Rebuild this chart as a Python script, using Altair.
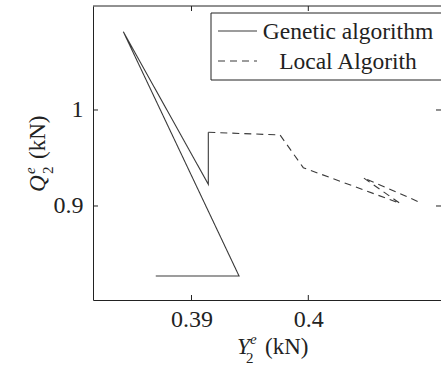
import altair as alt
import pandas as pd

# ---- data ----
series_names = ["Genetic algorithm", "Local Algorith"]
ga_x = [0.38694, 0.39407, 0.38416, 0.39144, 0.39144]
ga_y = [0.8271, 0.8271, 1.0816, 0.9226, 0.9768]
la_x = [0.39144, 0.39758, 0.39957, 0.40785, 0.40471, 0.40942]
la_y = [0.9768, 0.9740, 0.9399, 0.9028, 0.9295, 0.9045]
x_ticks = [0.39, 0.4]
y_ticks = [0.9, 1.0]

# ---- layout / style ----
W, H = 348, 294
X_DOM = [0.381567, 0.411361]
Y_DOM = [0.80208, 1.10833]
FONT = "Liberation Serif, Times New Roman, serif"
INK = "#222222"
LINE = "#3a3a3a"
FS = 23

rows = []
for i, (a, b) in enumerate(zip(ga_x, ga_y)):
    rows.append({"series": series_names[0], "order": i, "x": a, "y": b})
for i, (a, b) in enumerate(zip(la_x, la_y)):
    rows.append({"series": series_names[1], "order": i, "x": a, "y": b})
df = pd.DataFrame(rows)

xs = alt.Scale(domain=X_DOM, nice=False, zero=False)
ys = alt.Scale(domain=Y_DOM, nice=False, zero=False)
x_axis = alt.Axis(values=x_ticks, format="~g", tickSize=0, labelPadding=7,
                  labelFont=FONT, labelFontSize=FS + 1, labelColor=INK,
                  domainColor=INK, domainWidth=1, grid=False, title=None)
y_axis = alt.Axis(values=y_ticks, format="~g", tickSize=0, labelPadding=10,
                  labelFont=FONT, labelFontSize=FS + 1, labelColor=INK,
                  domainColor=INK, domainWidth=1, grid=False, title=None)
X = alt.X("x:Q", scale=xs, axis=x_axis, title=None)
Y = alt.Y("y:Q", scale=ys, axis=y_axis, title=None)

lines = alt.Chart(df).mark_line(strokeWidth=1.1, color=LINE).encode(
    x=X, y=Y,
    strokeDash=alt.StrokeDash("series:N",
                              scale=alt.Scale(domain=series_names, range=[[1, 0], [7, 5]]),
                              legend=None),
    detail="series:N",
    order="order:Q",
)

xt = pd.DataFrame({"x": x_ticks})
yt = pd.DataFrame({"y": y_ticks})
one = pd.DataFrame({"k": [0]})

tick_b = alt.Chart(xt).mark_rule(color=INK, strokeWidth=1).encode(
    x=X, y=alt.value(H), y2=alt.value(H - 5))
tick_t = alt.Chart(xt).mark_rule(color=INK, strokeWidth=1).encode(
    x=X, y=alt.value(0), y2=alt.value(5))
tick_l = alt.Chart(yt).mark_rule(color=INK, strokeWidth=1).encode(
    y=Y, x=alt.value(0), x2=alt.value(5))
tick_r = alt.Chart(yt).mark_rule(color=INK, strokeWidth=1).encode(
    y=Y, x=alt.value(W - 5), x2=alt.value(W))
top_border = alt.Chart(one).mark_rule(color=INK, strokeWidth=1).encode(
    x=alt.value(0), x2=alt.value(W), y=alt.value(0))

# legend
leg_box = alt.Chart(one).mark_rect(fill="white", stroke=INK, strokeWidth=1).encode(
    x=alt.value(118), x2=alt.value(W + 10), y=alt.value(7), y2=alt.value(74))
leg_l1 = alt.Chart(one).mark_rule(color=LINE, strokeWidth=1.1).encode(
    x=alt.value(125), x2=alt.value(164), y=alt.value(25))
leg_l2 = alt.Chart(one).mark_rule(color=LINE, strokeWidth=1.1, strokeDash=[7, 5]).encode(
    x=alt.value(125), x2=alt.value(164), y=alt.value(55))
leg_t1 = alt.Chart(one).mark_text(font=FONT, fontSize=23.5, color=INK, align="center",
                                  baseline="middle").encode(
    x=alt.value(255), y=alt.value(26), text=alt.value(series_names[0]))
leg_t2 = alt.Chart(one).mark_text(font=FONT, fontSize=23.5, color=INK, align="center",
                                  baseline="middle").encode(
    x=alt.value(255), y=alt.value(56), text=alt.value(series_names[1]))

# axis titles built from pieces (italic symbol, super/subscript)
def txt(s, x, y, size=FS, style="normal", angle=0, align="left"):
    return alt.Chart(one).mark_text(font=FONT, fontSize=size, fontStyle=style, color=INK,
                                    align=align, baseline="alphabetic", angle=angle).encode(
        x=alt.value(x), y=alt.value(y), text=alt.value(s))

xt_Y = txt("Y", 144, 348, style="italic")
xt_e = txt("e", 157, 338, size=15, style="italic")
xt_2 = txt("2", 153, 357, size=15)
xt_kN = txt("(kN)", 172, 348)

yt_Q = txt("Q", -48, 186, style="italic", angle=270)
yt_e = txt("e", -58, 168, size=15, style="italic", angle=270)
yt_2 = txt("2", -40, 168, size=15, angle=270)
yt_kN = txt("(kN)", -48, 153, angle=270)

chart = alt.layer(
    lines, tick_b, tick_t, tick_l, tick_r, top_border,
    leg_box, leg_l1, leg_l2, leg_t1, leg_t2,
    xt_Y, xt_e, xt_2, xt_kN, yt_Q, yt_e, yt_2, yt_kN,
).properties(
    width=W, height=H,
    autosize=alt.AutoSizeParams(type="none"),
    padding={"left": 93, "top": 6, "right": 0, "bottom": 67},
    background="white",
).configure_view(stroke=None)

chart.save("out.html", embed_options={"renderer": "svg", "actions": False})
